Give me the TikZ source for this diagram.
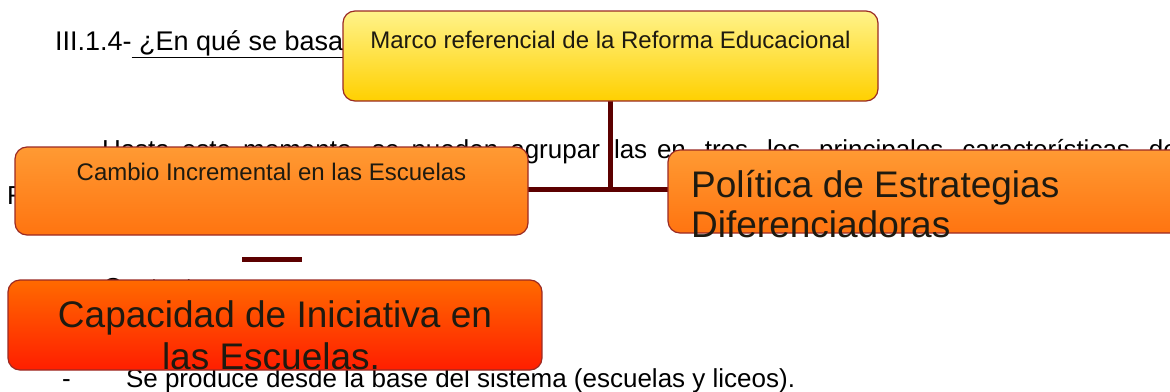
\documentclass[tikz,border=0pt]{standalone}
\usepackage{fontspec}
\setmainfont{Liberation Sans}
\definecolor{linkred}{HTML}{5C0000}
\definecolor{edgered}{HTML}{9A2A24}
\definecolor{yeltop}{HTML}{FFF38A}
\definecolor{yelbot}{HTML}{FFD000}
\definecolor{ortop}{HTML}{FF9A33}
\definecolor{orbot}{HTML}{FF7410}
\definecolor{rdtop}{HTML}{FF6A00}
\definecolor{rdbot}{HTML}{FF1E00}
\definecolor{boxtext}{HTML}{1E1A10}
\pgfdeclarelayer{textlayer}
\pgfdeclarelayer{linklayer}
\pgfsetlayers{textlayer,linklayer,main}
\tikzset{
  bodytext/.style={inner sep=0pt, outer sep=0pt, font=\fontsize{26}{31}\selectfont, anchor=base west},
  boxbase/.style={draw=edgered, line width=1.2pt, rounded corners=12pt, inner sep=0pt, outer sep=0pt},
  yellowbox/.style={boxbase, top color=yeltop, bottom color=yelbot},
  orangebox/.style={boxbase, top color=ortop, bottom color=orbot},
  redbox/.style={boxbase, top color=rdtop, bottom color=rdbot},
  smalllabel/.style={text=boxtext, inner sep=0pt, font=\fontsize{24}{28}\selectfont},
  biglabel/.style={text=boxtext, inner sep=0pt, font=\fontsize{37}{42}\selectfont},
  link/.style={draw=linkred, line width=5pt}
}
\begin{document}
\begin{tikzpicture}[x=1pt,y=-1pt]
\useasboundingbox (0,0) rectangle (1170,391);
\clip (0,0) rectangle (1170,391);
% background document text
\begin{pgfonlayer}{textlayer}
\node[bodytext, font=\fontsize{27}{32}\selectfont] (heading) at (55,50) {III.1.4-\underline{ ¿En qué se basa la Reforma}};
\node[bodytext] (hasta) at (102,158) {\makebox[498pt][s]{Hasta este momento, se pueden agrupar}};
\node[bodytext] (las) at (614,158) {las};
\node[bodytext] (entres) at (657,158) {\makebox[560pt][s]{en tres los principales características de la}};
\node[bodytext] (rline) at (7,204) {Reforma};
\node[bodytext] (contexto) at (103,296) {Contexto};
\node[bodytext] (bullet) at (62,387) {-};
\node[bodytext] (seprod) at (126,387) {Se produce desde la base del sistema (escuelas y liceos).};
\end{pgfonlayer}
% boxes
\node[yellowbox, minimum width=535pt, minimum height=90pt, anchor=north west] (marco) at (343,11) {};
\node[orangebox, minimum width=513pt, minimum height=88pt, anchor=north west] (cambio) at (15,147) {};
\node[redbox, minimum width=534pt, minimum height=90pt, anchor=north west] (capac) at (8,280) {};
\node[orangebox, minimum width=540pt, minimum height=83pt, anchor=north west] (politica) at (668,150) {};
% connectors
\coordinate (junction) at ([yshift=-88pt]marco.south);
\coordinate (dashL) at (242,259);
\coordinate (dashR) at (302,259);
\begin{pgfonlayer}{linklayer}
\draw[link] (marco.south) -- (junction);
\draw[link] (cambio.east |- junction) -- (politica.west |- junction);
\draw[link] (dashL) -- (dashR);
\end{pgfonlayer}
% labels
\node[smalllabel, anchor=base] (marcotxt) at ([yshift=-37pt]marco.north) {Marco referencial de la Reforma Educacional};
\node[smalllabel, anchor=base] (cambiotxt) at ([yshift=-33pt]cambio.north) {Cambio Incremental en las Escuelas};
\node[biglabel, anchor=base west] (politxt) at (691,197) {Política de Estrategias};
\node[biglabel, anchor=base west] (politxtb) at (691,237) {Diferenciadoras};
\node[biglabel, anchor=base] (capactxt) at (275,327) {Capacidad de Iniciativa en};
\node[biglabel, anchor=base] (capactxtb) at (271,369) {las Escuelas.};
\end{tikzpicture}
\end{document}
